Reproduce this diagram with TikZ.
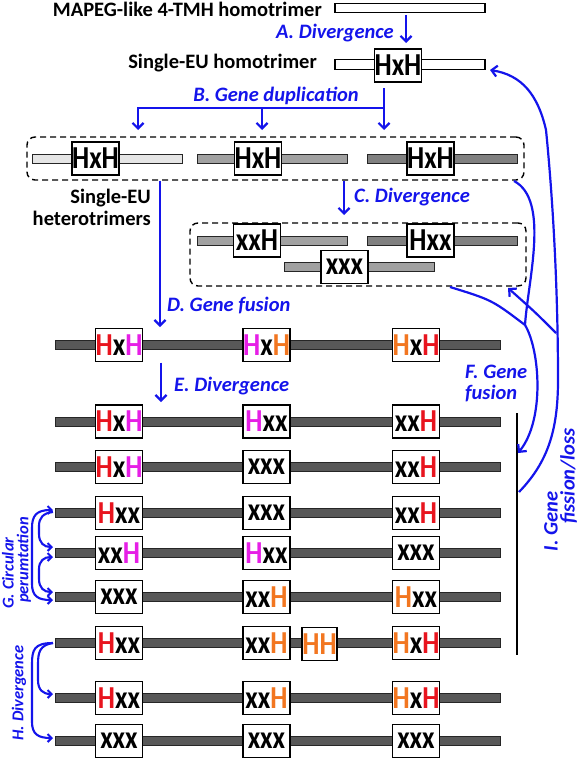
\documentclass[tikz,border=0pt]{standalone}
\usepackage{fontspec}
\setmainfont{Carlito}
\newfontfamily\boxfont[FakeStretch=0.85]{Carlito}
\usetikzlibrary{arrows.meta,calc}
\definecolor{lblue}{RGB}{20,20,235}
\definecolor{hred}{RGB}{232,20,30}
\definecolor{hmag}{RGB}{230,30,230}
\definecolor{hora}{RGB}{242,118,32}
\definecolor{bardark}{RGB}{88,88,88}
\newcommand\colR[1]{\textcolor{hred}{#1}}
\newcommand\colM[1]{\textcolor{hmag}{#1}}
\newcommand\colO[1]{\textcolor{hora}{#1}}
\tikzset{
  barbase/.style={draw=black!85, line width=0.9pt, minimum height=9pt, inner sep=0pt, rectangle},
  wbar/.style={barbase, fill=white, minimum width=150pt, minimum height=9.5pt, draw=black, line width=1.1pt},
  lbar/.style={barbase, fill=black!10, minimum width=150pt},
  mbar/.style={barbase, fill=black!37, minimum width=150pt},
  gbar/.style={barbase, fill=black!50, minimum width=150pt},
  dbar/.style={barbase, fill=bardark, minimum width=445.5pt},
  ubox/.style={draw=black, line width=1.7pt, fill=white, minimum width=47pt, minimum height=33pt, inner sep=0pt,
     font=\boxfont\bfseries\fontsize{32}{32}\selectfont},
  hhbox/.style={ubox, minimum width=35pt},
  blk/.style={font=\bfseries\fontsize{20.5}{22}\selectfont, inner sep=0pt},
  lbl/.style={text=lblue, font=\bfseries\itshape\fontsize{20.5}{21}\selectfont, inner sep=0pt},
  slbl/.style={text=lblue, font=\bfseries\itshape\fontsize{16.5}{16}\selectfont, inner sep=0pt, rotate=90},
  arr/.style={draw=lblue, line width=2.2pt, -{Straight Barb[length=5.5pt,width=11pt]}},
  arrb/.style={draw=lblue, line width=2.1pt, {Straight Barb[length=4pt,width=8pt]}-{Straight Barb[length=4pt,width=8pt]}},
  arrs/.style={draw=lblue, line width=2.1pt, -{Straight Barb[length=4pt,width=8pt]}},
  bline/.style={draw=lblue, line width=2.2pt},
  dbox/.style={draw=black, line width=1.4pt, dash pattern=on 6pt off 4pt, rounded corners=8pt, inner sep=0pt, rectangle}
}
\begin{document}
\begin{tikzpicture}[x=1pt,y=-1pt]
\useasboundingbox (0,0) rectangle (581,760);

% ---------- top homotrimers
\node[wbar] (bar1) at (410,8) {};
\node[blk, anchor=east] (t1) at (322,9.5) {MAPEG-like 4-TMH homotrimer};
\node[wbar] (bar2) at (410,64.5) {};
\node[ubox] (h0) at (398,65.5) {HxH};
\node[blk, anchor=east] (t2) at (317,63) {Single-EU homotrimer};

\coordinate (a0) at (406,15);
\coordinate (a1) at (406,43);
\draw[arr] (a0) -- (a1);
\node[lbl, anchor=east] (la) at (394,33) {A. Divergence};

% ---------- B gene duplication
\coordinate (b0) at (384,88);
\coordinate (bh) at (384,108);
\coordinate (b1) at (384,130);
\coordinate (b2) at (138,130);
\coordinate (b3t) at (262,108);
\coordinate (b3) at (262,130);
\draw[arr] (b0) -- (b1);
\draw[arr] (bh) -| (b2);
\draw[arr] (b3t) -- (b3);
\node[lbl] (lb) at (276,96) {B. Gene duplication};

% ---------- single-EU heterotrimers
\node[lbar] (s1) at (107.5,158.5) {};
\node[ubox] (s1b) at (95.5,158.5) {HxH};
\node[mbar] (s2) at (272,158.5) {};
\node[ubox] (s2b) at (258,158.5) {HxH};
\node[gbar] (s3) at (442,158.5) {};
\node[ubox] (s3b) at (430.5,158.5) {HxH};
\node[dbox, minimum width=497pt, minimum height=43pt] (grp1) at (275.5,158.5) {};
\node[blk, anchor=east, align=right] (t3) at (151,207.5) {Single-EU\\heterotrimers};

% ---------- C divergence
\coordinate (c0) at (344,180.5);
\coordinate (c1) at (344,215);
\draw[arr] (c0) -- (c1);
\node[lbl, anchor=west] (lc) at (354,197.5) {C. Divergence};

\node[mbar] (d1) at (272,240.5) {};
\node[ubox] (d1b) at (257,240.5) {xxH};
\node[gbar] (d2) at (442,240.5) {};
\node[ubox] (d2b) at (430.5,240.5) {Hxx};
\node[mbar] (d3) at (359,267) {};
\node[ubox] (d3b) at (344.5,267) {xxx};
\node[dbox, minimum width=336pt, minimum height=63pt] (grp2) at (358,254.5) {};

% ---------- D gene fusion
\coordinate (dd0) at (160,180.5);
\coordinate (dd1) at (160,327);
\draw[arr] (dd0) -- (dd1);
\node[lbl, anchor=west] (ld) at (167,305.5) {D. Gene fusion};

% ---------- long rows
\foreach \y/\n in {345/D,421.5/1,467/2,513/3,553/4,597/5,643/6,698/7,741/8}
  \node[dbar] (row\n) at (278,\y) {};

\node[ubox] at (119,345) {\colR{H}x\colM{H}};
\node[ubox] at (266.5,345) {\colM{H}x\colO{H}};
\node[ubox] at (416,345) {\colO{H}x\colR{H}};

\coordinate (e0) at (161,362.5);
\coordinate (e1) at (161,402);
\draw[arr] (e0) -- (e1);
\node[lbl, anchor=west] (le) at (174,386.5) {E. Divergence};

\node[ubox] (r1a) at (119,421.5) {\colR{H}x\colM{H}};
\node[ubox] (r1b) at (266.5,421.5) {\colM{H}xx};
\node[ubox] (r1c) at (416,421.5) {xx\colR{H}};

\node[ubox] (r2a) at (119,467) {\colR{H}x\colM{H}};
\node[ubox] (r2b) at (266.5,467) {xxx};
\node[ubox] (r2c) at (416,467) {xx\colR{H}};

\node[ubox] (r3a) at (119,513) {\colR{H}xx};
\node[ubox] (r3b) at (266.5,513) {xxx};
\node[ubox] (r3c) at (416,513) {xx\colR{H}};

\node[ubox] (r4a) at (119,553) {xx\colM{H}};
\node[ubox] (r4b) at (266.5,553) {\colM{H}xx};
\node[ubox] (r4c) at (416,553) {xxx};

\node[ubox] (r5a) at (119,597) {xxx};
\node[ubox] (r5b) at (266.5,597) {xx\colO{H}};
\node[ubox] (r5c) at (416,597) {\colO{H}xx};

\node[ubox] (r6a) at (119,643) {\colR{H}xx};
\node[ubox] (r6b) at (266.5,643) {xx\colO{H}};
\node[hhbox] (r6h) at (319.5,644) {\colO{HH}};
\node[ubox] (r6c) at (416,643) {\colO{H}x\colR{H}};

\node[ubox] (r7a) at (119,698) {\colR{H}xx};
\node[ubox] (r7b) at (266.5,698) {xx\colO{H}};
\node[ubox] (r7c) at (416,698) {\colO{H}x\colR{H}};

\node[ubox] (r8a) at (119,741) {xxx};
\node[ubox] (r8b) at (266.5,741) {xxx};
\node[ubox] (r8c) at (416,741) {xxx};

% ---------- vertical line
\coordinate (v0) at (517,413);
\coordinate (v1) at (517,655);
\draw[line width=1.9pt] (v0) -- (v1);

% ---------- F gene fusion
\coordinate (f1) at (514,181);
\coordinate (f2) at (450,287);
\coordinate (fm) at (525,325);
\coordinate (f3) at (518,453);
\draw[bline] (f1) .. controls (550,200) and (528,280) .. (fm);
\draw[bline] (f2) .. controls (492,300) .. (fm);
\draw[arr] (fm) .. controls (540,350) and (545,420) .. (f3);
\node[lbl, anchor=west, align=left] (lf) at (465,383) {F. Gene\\fusion};

% ---------- I gene fission/loss
\coordinate (i0) at (519,492);
\coordinate (ip1) at (558,380);
\coordinate (ip2) at (546,130);
\coordinate (i1) at (490,70);
\coordinate (ib) at (556,333);
\coordinate (ibt) at (508,288);
\draw[arr] (i0) .. controls (548,462) and (558,430) .. (ip1)
   .. controls (558,290) and (553,200) .. (ip2)
   .. controls (538,95) and (522,75) .. (i1);
\draw[arr] (ib) .. controls (535,312) .. (ibt);
\node[lbl, rotate=90] (li1) at (551,521.5) {I. Gene};
\node[lbl, rotate=90] (li2) at (568.5,476) {fission/loss};

% ---------- G circular permutation
\coordinate (g1) at (53,510);
\coordinate (g2) at (53,600);
\coordinate (g3) at (53,512);
\coordinate (g4) at (53,547);
\coordinate (g5) at (53,557);
\coordinate (g6) at (53,592);
\draw[arrb] (g1) .. controls (36,510) and (32,516) .. (32,528) -- (32,584)
   .. controls (32,596) and (38,600) .. (g2);
\draw[arrs] (g3) .. controls (43,513) and (39,518) .. (39,526) -- (39,534)
   .. controls (39,543) and (44,547) .. (g4);
\draw[arrb] (g5) .. controls (44,557) and (39,561) .. (39,569) -- (39,579)
   .. controls (39,588) and (44,592) .. (g6);
\node[slbl] (lg1) at (8,573) {G. Circular};
\node[slbl] (lg2) at (24,560) {perumtation};

% ---------- H divergence
\coordinate (h1) at (53,643);
\coordinate (h2) at (53,694);
\coordinate (h3) at (53,738);
\draw[arrs] (h1) .. controls (34,643) and (32,650) .. (32,664) -- (32,722)
   .. controls (32,734) and (38,738) .. (h3);
\draw[arrs] (h1) .. controls (40,645) and (38,652) .. (38,664) -- (38,680)
   .. controls (38,690) and (43,694) .. (h2);
\node[slbl] (lh) at (19,693) {H. Divergence};
\end{tikzpicture}
\end{document}
